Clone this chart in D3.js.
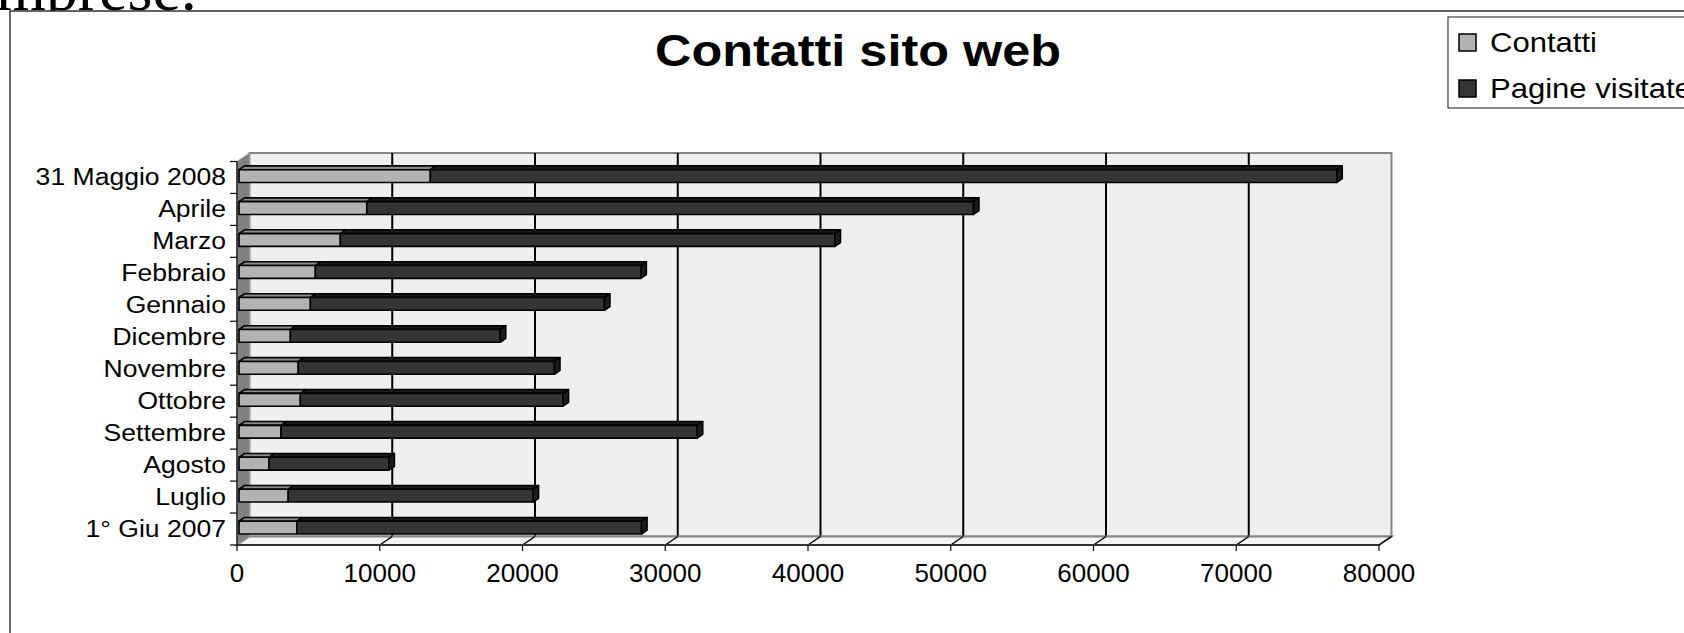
<!DOCTYPE html>
<html>
<head>
<meta charset="utf-8">
<script src="https://cdn.jsdelivr.net/npm/d3@7"></script>
<style>
  body { margin: 0; background: #fff; }
  svg { display: block; }
</style>
</head>
<body>
<div id="chart"></div>
<script>
const width = 1684, height = 633;

// data, bottom to top as in the sheet
const categories = ["1° Giu 2007", "Luglio", "Agosto", "Settembre", "Ottobre", "Novembre",
                    "Dicembre", "Gennaio", "Febbraio", "Marzo", "Aprile", "31 Maggio 2008"];
const contatti = [4050, 3450, 2100, 2950, 4300, 4150, 3600, 5000, 5350, 7100, 8950, 13400];
const pagine   = [24150, 17150, 8400, 29150, 18400, 17950, 14700, 20600, 22800, 34650, 42500, 63500];
const seriesNames = ["Contatti", "Pagine visitate"];
const xTicks = [0, 10000, 20000, 30000, 40000, 50000, 60000, 70000, 80000];

const colors = { front: ["#b3b3b3", "#353535"], top: ["#8a8a8a", "#1c1c1c"] };

// 3d offsets (depth of the walls and of the bars)
const wallDx = 12.5, wallDy = 8.5;
const barDx0 = 2, barDy0 = 1.4, barDx = 5.5, barDy = 3.8;

const svg = d3.select("#chart").append("svg")
    .attr("width", width)
    .attr("height", height);

// text of the document behind the chart, cut by the chart area
svg.append("text")
    .attr("x", -4).attr("y", 10)
    .attr("font-family", "'Liberation Serif', 'Times New Roman', serif")
    .attr("font-size", 64)
    .attr("fill", "#000")
    .text("mprese.");

svg.append("rect")
    .attr("x", 10).attr("y", 11)
    .attr("width", width).attr("height", height)
    .attr("fill", "#fff");
svg.append("path")
    .attr("d", `M10,${height} L10,11 L${width},11`)
    .attr("fill", "none").attr("stroke", "#303030").attr("stroke-width", 1.4);

// stretched text helper (the chart was pasted a bit wider than tall)
function stext(g, x, y, str, size, sx, anchor, weight) {
  g.append("text")
      .attr("transform", `translate(${x},${y}) scale(${sx},1)`)
      .attr("text-anchor", anchor)
      .attr("font-family", "'Liberation Sans', Arial, sans-serif")
      .attr("font-size", size)
      .attr("font-weight", weight || "normal")
      .attr("fill", "#000")
      .text(str);
}

stext(svg, 858, 66, "Contatti sito web", 45, 1.12, "middle", "bold");

const x = d3.scaleLinear().domain([0, 80000]).range([237, 1379]);
const y = d3.scaleBand().domain(categories.slice().reverse()).range([161.5, 545]);
const bh = y.bandwidth() / 2.5;

const topY = y.range()[0] - wallDy, bottomY = y.range()[1];

// back wall
svg.append("rect")
    .attr("x", x(0) + wallDx).attr("y", topY)
    .attr("width", x(80000) - x(0)).attr("height", bottomY - wallDy - topY)
    .attr("fill", "#efefef").attr("stroke", "#858585").attr("stroke-width", 2);

// gridlines on the back wall
svg.append("g").selectAll("line")
    .data(xTicks.slice(1, -1))
    .join("line")
    .attr("x1", d => x(d) + wallDx).attr("x2", d => x(d) + wallDx)
    .attr("y1", topY).attr("y2", bottomY - wallDy)
    .attr("stroke", "#000").attr("stroke-width", 2);

// floor
svg.append("path")
    .attr("d", `M${x(0)},${bottomY} L${x(80000)},${bottomY} L${x(80000) + wallDx},${bottomY - wallDy} L${x(0) + wallDx},${bottomY - wallDy} Z`)
    .attr("fill", "#f4f4f4").attr("stroke", "#858585").attr("stroke-width", 2);
svg.append("g").selectAll("line")
    .data(xTicks.slice(1))
    .join("line")
    .attr("x1", d => x(d)).attr("x2", d => x(d) + wallDx)
    .attr("y1", bottomY).attr("y2", bottomY - wallDy)
    .attr("stroke", "#000").attr("stroke-width", 1.5);

// left wall
svg.append("path")
    .attr("d", `M${x(0)},${topY + wallDy} L${x(0) + wallDx},${topY} L${x(0) + wallDx},${bottomY - wallDy} L${x(0)},${bottomY} Z`)
    .attr("fill", "#808080").attr("stroke", "#a0a0a0").attr("stroke-width", 1);

// axes
svg.append("line")
    .attr("x1", x(0)).attr("x2", x(80000)).attr("y1", bottomY).attr("y2", bottomY)
    .attr("stroke", "#333").attr("stroke-width", 2);
svg.append("line")
    .attr("x1", x(0)).attr("x2", x(0)).attr("y1", topY + wallDy).attr("y2", bottomY)
    .attr("stroke", "#222").attr("stroke-width", 1.5);

svg.append("g").selectAll("line")
    .data(xTicks)
    .join("line")
    .attr("x1", d => x(d)).attr("x2", d => x(d))
    .attr("y1", bottomY).attr("y2", bottomY + 6)
    .attr("stroke", "#000").attr("stroke-width", 1.2);

const yTickPos = y.domain().map(d => y(d)).concat([bottomY]);
svg.append("g").selectAll("line")
    .data(yTickPos)
    .join("line")
    .attr("x1", x(0) - 7).attr("x2", x(0))
    .attr("y1", d => d).attr("y2", d => d)
    .attr("stroke", "#000").attr("stroke-width", 1.2);

const xLab = svg.append("g");
xTicks.forEach(t => stext(xLab, x(t), 582, String(t), 26, 1, "middle"));

const yLab = svg.append("g");
categories.forEach(c => stext(yLab, 226, y(c) + y.bandwidth() / 2 + 8, c, 23.5, 1.13, "end"));

// stacked 3d bars
const rows = categories.map((c, i) => ({ cat: c, Contatti: contatti[i], "Pagine visitate": pagine[i] }));
const stacked = d3.stack().keys(seriesNames)(rows);

const bars = svg.append("g");
stacked.forEach((layer, si) => {
  const last = si === stacked.length - 1;
  layer.forEach(d => {
    const cat = d.data.cat;
    const yf = y(cat) + y.bandwidth() / 2 - bh / 2 - barDy0;
    const x0 = x(d[0]) + barDx0, x1 = x(d[1]) + barDx0;
    const g = bars.append("g")
        .attr("stroke", "#000").attr("stroke-width", 1.6).attr("stroke-linejoin", "round");
    g.append("path")
        .attr("d", `M${x0},${yf} L${x1},${yf} L${x1 + barDx},${yf - barDy} L${x0 + barDx},${yf - barDy} Z`)
        .attr("fill", colors.top[si]);
    g.append("rect")
        .attr("x", x0).attr("y", yf)
        .attr("width", x1 - x0).attr("height", bh)
        .attr("fill", colors.front[si]);
    if (last) {
      g.append("path")
          .attr("d", `M${x1},${yf} L${x1 + barDx},${yf - barDy} L${x1 + barDx},${yf + bh - barDy} L${x1},${yf + bh} Z`)
          .attr("fill", "#1c1c1c");
    }
  });
});

// legend
const legend = svg.append("g");
legend.append("rect")
    .attr("x", 1448).attr("y", 17)
    .attr("width", 300).attr("height", 91)
    .attr("fill", "#fff").attr("stroke", "#404040").attr("stroke-width", 1.2);
seriesNames.forEach((s, i) => {
  legend.append("rect")
      .attr("x", 1459).attr("y", 34 + i * 46)
      .attr("width", 17).attr("height", 17)
      .attr("fill", colors.front[i]).attr("stroke", "#000").attr("stroke-width", 1.5);
  stext(legend, 1490, 52 + i * 46, s, 27, 1.15, "start");
});
</script>
</body>
</html>
